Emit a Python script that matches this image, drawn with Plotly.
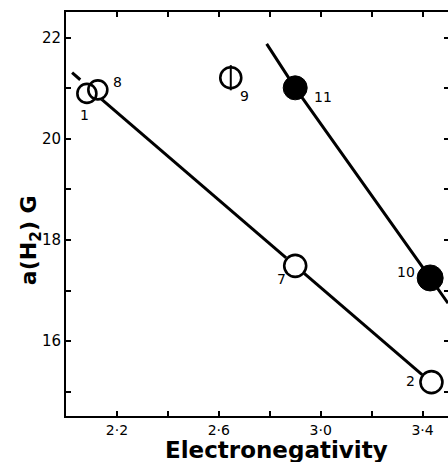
import plotly.graph_objects as go

# compounds: label, electronegativity, a(H2) / G
labels = ["1", "8", "9", "7", "2", "11", "10"]
electroneg = [2.082, 2.125, 2.647, 2.90, 3.435, 2.90, 3.43]
a_h2 = [20.90, 20.97, 21.21, 17.49, 15.19, 21.01, 17.25]
kind = ["open", "open", "barred", "open", "open", "filled", "filled"]

# label positions (data coords)
label_x = [2.071, 2.204, 2.702, 2.847, 3.353, 3.008, 3.337]
label_y = [20.48, 21.13, 20.84, 17.23, 15.21, 20.82, 17.36]

# correlation lines
lineA_dash_x = [2.024, 2.056]
lineA_dash_y = [21.31, 21.17]
lineA_x = [2.09, 2.90, 3.43]
lineA_y = [21.00, 17.50, 15.20]
lineB_x = [2.788, 2.90, 3.43, 3.50]
lineB_y = [21.88, 21.01, 17.25, 16.75]

x_tickvals = [2.2, 2.6, 3.0, 3.4]
x_ticktext = ["2·2", "2·6", "3·0", "3·4"]
y_tickvals = [16, 18, 20, 22]
y_ticktext = ["16", "18", "20", "22"]

sizes = {"1": 19, "8": 19, "9": 21, "7": 22, "2": 22, "11": 24, "10": 26}

fig = go.Figure()

# lines
fig.add_trace(go.Scatter(x=lineA_dash_x, y=lineA_dash_y, mode="lines",
                         line=dict(color="black", width=3), hoverinfo="skip"))
fig.add_trace(go.Scatter(x=lineA_x, y=lineA_y, mode="lines",
                         line=dict(color="black", width=3), hoverinfo="skip"))
fig.add_trace(go.Scatter(x=lineB_x, y=lineB_y, mode="lines",
                         line=dict(color="black", width=3), hoverinfo="skip"))

# white fills under open circles
ox = [x for x, k in zip(electroneg, kind) if k != "filled"]
oy = [y for y, k in zip(a_h2, kind) if k != "filled"]
osz = [sizes[l] + 2 for l, k in zip(labels, kind) if k != "filled"]
fig.add_trace(go.Scatter(x=ox, y=oy, mode="markers",
                         marker=dict(symbol="circle", size=osz, color="white", opacity=1,
                                     line=dict(width=0)), hoverinfo="skip"))
# open circle outlines
fig.add_trace(go.Scatter(x=ox, y=oy, mode="markers",
                         marker=dict(symbol="circle-open", size=[s - 2 for s in osz],
                                     color="black", opacity=1, line=dict(width=2.6)),
                         hoverinfo="skip"))
# bar inside circle 9
bx = [x for x, k in zip(electroneg, kind) if k == "barred"]
by = [y for y, k in zip(a_h2, kind) if k == "barred"]
fig.add_trace(go.Scatter(x=bx, y=by, mode="markers",
                         marker=dict(symbol="line-ns-open", size=sizes["9"] - 3,
                                     color="black", opacity=1, line=dict(width=2)),
                         hoverinfo="skip"))
# filled circles
fx = [x for x, k in zip(electroneg, kind) if k == "filled"]
fy = [y for y, k in zip(a_h2, kind) if k == "filled"]
fsz = [sizes[l] for l, k in zip(labels, kind) if k == "filled"]
fig.add_trace(go.Scatter(x=fx, y=fy, mode="markers",
                         marker=dict(symbol="circle", size=fsz, color="black", opacity=1,
                                     line=dict(width=1, color="black")),
                         hoverinfo="skip"))

# invisible trace for right axis
fig.add_trace(go.Scatter(x=[2.5], y=[18], yaxis="y2", mode="markers",
                         marker=dict(opacity=0), hoverinfo="skip"))

for lx, ly, t in zip(label_x, label_y, labels):
    fig.add_annotation(x=lx, y=ly, text=t, showarrow=False,
                       font=dict(family="DejaVu Sans", size=14, color="black"))

fig.add_annotation(x=2.827, y=-0.084, xref="x", yref="paper", text="<b>Electronegativity</b>",
                   xanchor="center", yanchor="middle",
                   showarrow=False, font=dict(family="DejaVu Sans", size=23, color="black"))
fig.add_annotation(x=-0.094, y=18, xref="paper", yref="y", text="<b>a(H<sub>2</sub>) G</b>",
                   xanchor="center", yanchor="middle",
                   textangle=-90, showarrow=False,
                   font=dict(family="DejaVu Sans", size=22, color="black"))

fig.update_layout(
    width=448, height=462,
    margin=dict(l=66, r=0, t=12, b=46),
    paper_bgcolor="white", plot_bgcolor="white",
    showlegend=False,
    xaxis=dict(range=[2.0, 3.5], tickvals=x_tickvals, ticktext=x_ticktext,
               ticks="inside", ticklen=5, tickwidth=1.5, tickcolor="black",
               minor=dict(ticks="inside", tick0=2.2, dtick=0.2, ticklen=5,
                          tickwidth=1.5, tickcolor="black", showgrid=False),
               showline=True, linewidth=2, linecolor="black", mirror="ticks",
               showgrid=False, zeroline=False,
               tickfont=dict(family="DejaVu Sans", size=14, color="black")),
    yaxis=dict(range=[14.52, 22.51], tickvals=y_tickvals, ticktext=y_ticktext,
               ticks="inside", ticklen=5, tickwidth=1.5, tickcolor="black",
               minor=dict(ticks="inside", tick0=15, dtick=1, ticklen=5,
                          tickwidth=1.5, tickcolor="black", showgrid=False),
               showline=True, linewidth=2, linecolor="black",
               showgrid=False, zeroline=False,
               tickfont=dict(family="DejaVu Sans", size=15, color="black")),
    yaxis2=dict(range=[14.52, 22.51], overlaying="y", side="right",
                tick0=15, dtick=1, ticks="inside", ticklen=4, tickwidth=1.5,
                tickcolor="black", showticklabels=False, showline=False,
                showgrid=False, zeroline=False),
)

fig.write_html("out.html")
